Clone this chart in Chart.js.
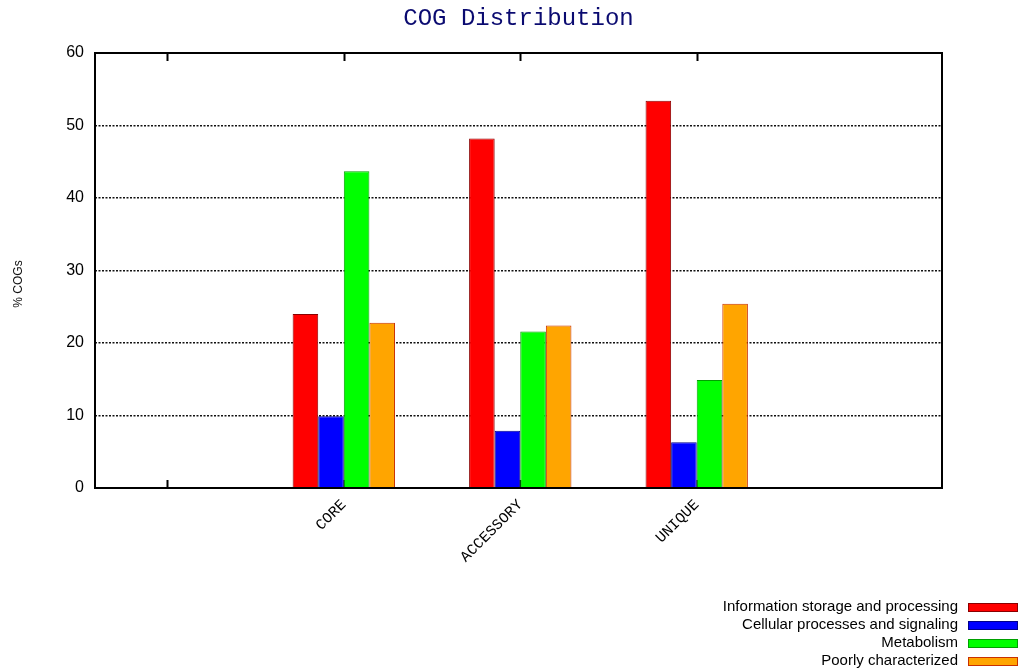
<!DOCTYPE html>
<html>
<head>
<meta charset="utf-8">
<title>COG Distribution</title>
<script src="https://cdn.jsdelivr.net/npm/chart.js@4.4.1/dist/chart.umd.min.js"></script>
<style>
  html, body { margin: 0; padding: 0; background: #ffffff; }
  #wrap { width: 1021px; height: 670px; }
</style>
</head>
<body>
<div id="wrap"><canvas id="cog" width="1021" height="670"></canvas></div>
<script>
// Category slots along the x axis (slot 0 is an empty leading tick)
const categories = ['', 'CORE', 'ACCESSORY', 'UNIQUE'];

// Functional COG classes
const seriesNames = [
  'Information storage and processing',
  'Cellular processes and signaling',
  'Metabolism',
  'Poorly characterized'
];

// % of COGs per class, for CORE, ACCESSORY, UNIQUE
const infoStorage = [24.0, 48.2, 53.4];
const cellular    = [9.9, 7.9, 6.3];
const metabolism  = [43.7, 21.6, 14.9];
const poorly      = [22.8, 22.4, 25.4];

// Y axis tick values
const yTicks = [0, 10, 20, 30, 40, 50, 60];

const fills   = ['#ff0000', '#0000ff', '#00ff00', '#ffa500'];
const edges   = ['#8a0000', '#00008a', '#00a000', '#c83000'];

const seriesValues = [infoStorage, cellular, metabolism, poorly];

const datasets = seriesValues.map((vals, s) => ({
  label: seriesNames[s],
  data: vals.map((v, i) => ({ x: i + 1, y: v })),
  backgroundColor: fills[s],
  borderColor: edges[s],
  borderWidth: 1,
  borderSkipped: 'bottom',
  categoryPercentage: 0.58,
  barPercentage: 1.0
}));

// Frame, inward x tick marks, rotated y title and right-aligned legend
const gnuFrame = {
  id: 'gnuFrame',
  beforeDatasetsDraw(chart) {
    const { ctx, chartArea: a, scales: { x } } = chart;
    ctx.save();
    ctx.strokeStyle = '#000';
    ctx.lineWidth = 2;
    x.ticks.forEach(t => {
      const px = Math.round(x.getPixelForValue(t.value)) + 0.5;
      ctx.beginPath();
      ctx.moveTo(px, a.top); ctx.lineTo(px, a.top + 8);
      ctx.moveTo(px, a.bottom); ctx.lineTo(px, a.bottom - 8);
      ctx.stroke();
    });
    ctx.restore();
  },
  afterDraw(chart) {
    const { ctx, chartArea: a } = chart;
    ctx.save();
    ctx.strokeStyle = '#000';
    ctx.lineWidth = 2;
    ctx.strokeRect(a.left, a.top, a.right - a.left, a.bottom - a.top);

    // y axis title
    ctx.save();
    ctx.translate(19, 284);
    ctx.rotate(-Math.PI / 2);
    ctx.fillStyle = '#111';
    ctx.font = '12px "Liberation Sans", Arial, sans-serif';
    ctx.textAlign = 'center';
    ctx.textBaseline = 'middle';
    ctx.fillText('% COGs', 0, 0);
    ctx.restore();

    // legend, text right-aligned with swatch to the right
    ctx.font = '15px "Liberation Sans", Arial, sans-serif';
    ctx.textAlign = 'right';
    ctx.textBaseline = 'middle';
    chart.data.datasets.forEach((ds, i) => {
      const cy = 607 + i * 18;
      ctx.fillStyle = '#000';
      ctx.fillText(ds.label, 958, cy);
      ctx.fillStyle = ds.backgroundColor;
      ctx.fillRect(968, cy - 4, 50, 9);
      ctx.strokeStyle = ds.borderColor;
      ctx.lineWidth = 1;
      ctx.strokeRect(968.5, cy - 3.5, 49, 8);
    });
    ctx.restore();
  }
};

new Chart(document.getElementById('cog'), {
  type: 'bar',
  data: { datasets },
  plugins: [gnuFrame],
  options: {
    responsive: false,
    animation: false,
    devicePixelRatio: 1,
    layout: { padding: { left: 0, right: 79, top: 0, bottom: 0 } },
    plugins: {
      legend: { display: false },
      tooltip: { enabled: false },
      title: {
        display: true,
        text: 'COG Distribution',
        fullSize: false,
        color: '#0a0a70',
        font: { family: '"Liberation Mono", "Courier New", monospace', size: 24, weight: 'normal', lineHeight: 1.2 },
        padding: { top: 4, bottom: 20.2 }
      }
    },
    scales: {
      x: {
        type: 'linear',
        min: -0.41,
        max: 4.39,
        offset: false,
        grid: { display: false },
        border: { display: false },
        afterBuildTicks(scale) {
          scale.ticks = categories.map((_, i) => ({ value: i }));
        },
        afterFit(scale) { scale.height = 182; },
        ticks: {
          autoSkip: false,
          minRotation: 45,
          maxRotation: 45,
          padding: 0,
          color: '#000',
          font: { family: '"Liberation Mono", "Courier New", monospace', size: 15 },
          callback: (v) => categories[v] ?? ''
        }
      },
      y: {
        min: 0,
        max: 60,
        afterBuildTicks(scale) {
          scale.ticks = yTicks.map(v => ({ value: v }));
        },
        afterFit(scale) { scale.width = 95; },
        border: { display: false, dash: [2, 1.5] },
        grid: {
          drawTicks: false,
          color: (c) => (c.tick && (c.tick.value === 0 || c.tick.value === 60)) ? 'rgba(0,0,0,0)' : '#111',
          lineWidth: 1.6
        },
        ticks: {
          padding: 11,
          color: '#000',
          font: { family: '"Liberation Sans", Arial, sans-serif', size: 16 }
        }
      }
    }
  }
});
</script>
</body>
</html>
